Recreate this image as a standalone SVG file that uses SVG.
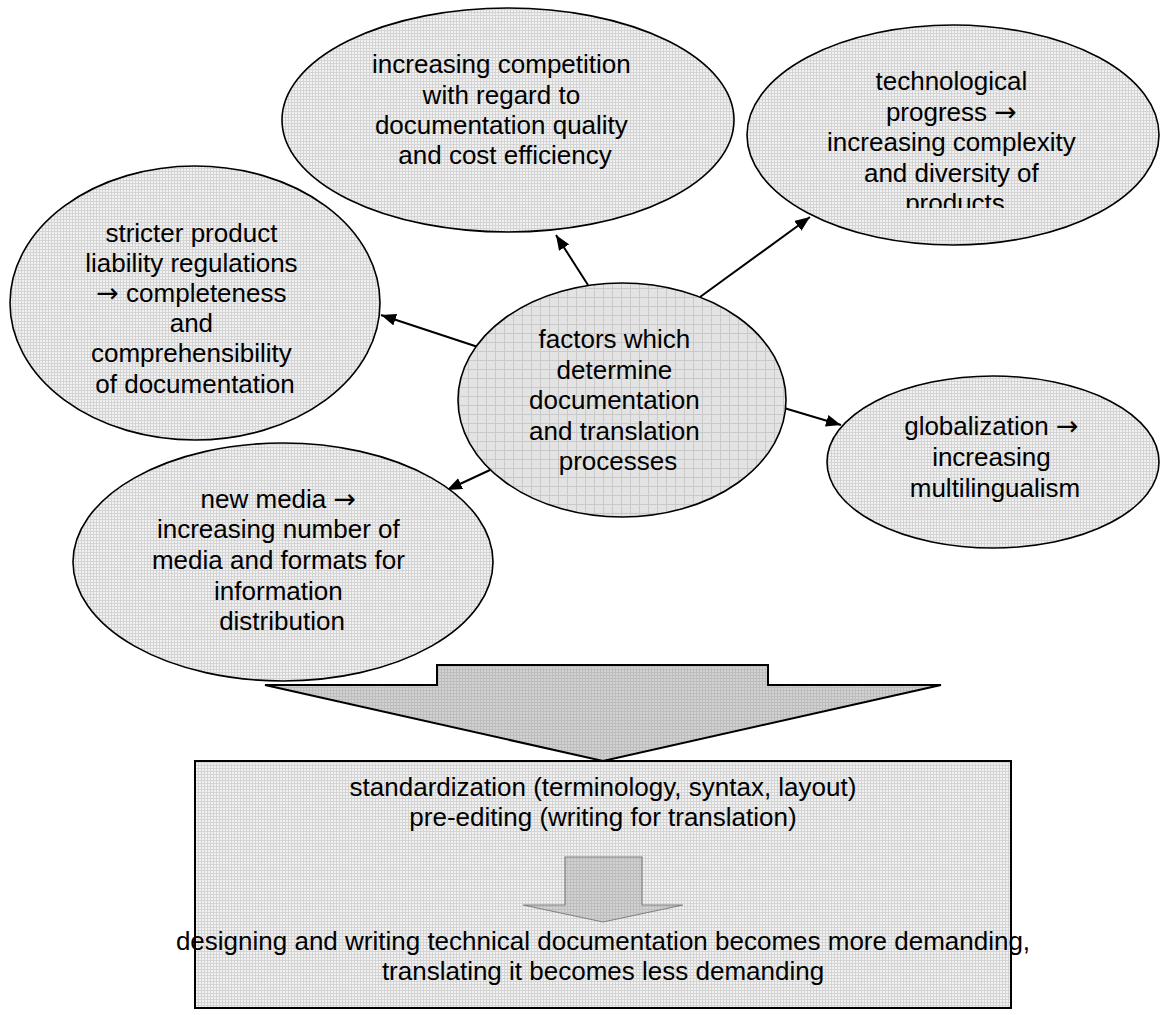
<svg xmlns="http://www.w3.org/2000/svg" width="1160" height="1015" viewBox="0 0 1160 1015">
  <defs>
    <!-- fine grey grid used by the outer ellipses and the result box -->
    <pattern id="gridFine" width="3" height="3" patternUnits="userSpaceOnUse">
      <rect width="3" height="3" fill="#f1f1f1"/>
      <path d="M0,0.5 H3 M0.5,0 V3" stroke="#d4d4d4" stroke-width="1"/>
    </pattern>
    <!-- coarser grid for the central ellipse -->
    <pattern id="gridCoarse" width="9" height="9" patternUnits="userSpaceOnUse">
      <rect width="9" height="9" fill="#e3e3e3"/>
      <path d="M0,0.5 H9 M0.5,0 V9" stroke="#c9c9c9" stroke-width="1"/>
    </pattern>
    <!-- darker grid for the block arrows -->
    <pattern id="gridDark" width="3" height="3" patternUnits="userSpaceOnUse">
      <rect width="3" height="3" fill="#d2d2d2"/>
      <path d="M0,0.5 H3 M0.5,0 V3" stroke="#bdbdbd" stroke-width="1"/>
    </pattern>
    <marker id="arrow" viewBox="0 0 15 12" markerWidth="15" markerHeight="12" refX="15" refY="6" orient="auto" markerUnits="userSpaceOnUse">
      <path d="M0,0 L15,6 L0,12 z" fill="#000"/>
    </marker>
    <clipPath id="clipTech">
      <rect x="740" y="20" width="420" height="188"/>
    </clipPath>
  </defs>
  <style>
    .ell { fill: url(#gridFine); stroke: #000; stroke-width: 1.6; }
    .ellMain { fill: url(#gridCoarse); stroke: #000; stroke-width: 1.6; }
    .lbl { font-family: "Liberation Sans", Arial, sans-serif; font-size: 26px; fill: #000; text-anchor: middle; }
    .note { font-family: "Liberation Sans", Arial, sans-serif; font-size: 26px; fill: #000; text-anchor: middle; }
    .arw { font-family: "DejaVu Sans", sans-serif; font-size: 27px; }
    .conn { stroke: #000; stroke-width: 2; fill: none; marker-end: url(#arrow); }
  </style>

  <rect width="1160" height="1015" fill="#fff"/>

  <!-- connectors from the central ellipse to the factors -->
  <g id="connectors">
    <line class="conn" x1="588" y1="285" x2="556" y2="235"/>
    <line class="conn" x1="478" y1="347" x2="381" y2="315"/>
    <line class="conn" x1="700" y1="297" x2="810" y2="217"/>
    <line class="conn" x1="784" y1="408" x2="841" y2="425"/>
    <line class="conn" x1="490" y1="470" x2="447" y2="490"/>
  </g>

  <g id="node-competition">
    <ellipse class="ell" cx="508" cy="120" rx="226" ry="112"/>
    <text class="lbl">
      <tspan x="505" y="73">increasing competition</tspan>
      <tspan x="505" y="103.5">with regard to</tspan>
      <tspan x="505" y="133.5">documentation quality</tspan>
      <tspan x="505" y="163.5">and cost efficiency</tspan>
    </text>
  </g>

  <g id="node-technology">
    <ellipse class="ell" cx="953" cy="135" rx="206" ry="110"/>
    <text class="lbl" clip-path="url(#clipTech)">
      <tspan x="955" y="90">technological</tspan>
      <tspan x="955" y="120.5">progress <tspan class="arw">→</tspan></tspan>
      <tspan x="955" y="151">increasing complexity</tspan>
      <tspan x="955" y="181.5">and diversity of</tspan>
      <tspan x="955" y="212">products</tspan>
    </text>
  </g>

  <g id="node-liability">
    <ellipse class="ell" cx="195" cy="303" rx="185" ry="137"/>
    <text class="lbl">
      <tspan x="195" y="242">stricter product</tspan>
      <tspan x="195" y="272">liability regulations</tspan>
      <tspan x="195" y="302"><tspan class="arw">→</tspan> completeness</tspan>
      <tspan x="195" y="332">and</tspan>
      <tspan x="195" y="362">comprehensibility</tspan>
      <tspan x="195" y="393">of documentation</tspan>
    </text>
  </g>

  <g id="node-media">
    <ellipse class="ell" cx="283" cy="562" rx="210" ry="119"/>
    <text class="lbl">
      <tspan x="282" y="508">new media <tspan class="arw">→</tspan></tspan>
      <tspan x="282" y="538">increasing number of</tspan>
      <tspan x="282" y="569">media and formats for</tspan>
      <tspan x="282" y="600">information</tspan>
      <tspan x="282" y="630">distribution</tspan>
    </text>
  </g>

  <g id="node-globalization">
    <ellipse class="ell" cx="993" cy="462" rx="166" ry="86"/>
    <text class="lbl">
      <tspan x="995" y="435">globalization <tspan class="arw">→</tspan></tspan>
      <tspan x="995" y="466">increasing</tspan>
      <tspan x="995" y="497">multilingualism</tspan>
    </text>
  </g>

  <g id="node-factors">
    <ellipse class="ellMain" cx="622" cy="400" rx="164" ry="117"/>
    <text class="lbl">
      <tspan x="618" y="348">factors which</tspan>
      <tspan x="618" y="378.5">determine</tspan>
      <tspan x="618" y="409">documentation</tspan>
      <tspan x="618" y="439.5">and translation</tspan>
      <tspan x="618" y="470">processes</tspan>
    </text>
  </g>

  <!-- large block arrow leading into the result box -->
  <g id="node-big-arrow">
    <polygon points="437,665 768,665 768,685 941,685 603,761 265,685 437,685" fill="url(#gridDark)" stroke="#000" stroke-width="2" stroke-linejoin="miter"/>
  </g>

  <g id="node-result">
    <rect x="195" y="761" width="816" height="247" fill="url(#gridFine)" stroke="#000" stroke-width="2"/>
    <text class="note" x="603" y="796">standardization (terminology, syntax, layout)</text>
    <text class="note" x="603" y="826">pre-editing (writing for translation)</text>
    <polygon points="565,857 642,857 642,905 683,905 603,922 523,905 565,905" fill="url(#gridDark)" stroke="#808080" stroke-width="1.2"/>
    <text class="note" x="603" y="950">designing and writing technical documentation becomes more demanding,</text>
    <text class="note" x="603" y="980">translating it becomes less demanding</text>
  </g>
</svg>
